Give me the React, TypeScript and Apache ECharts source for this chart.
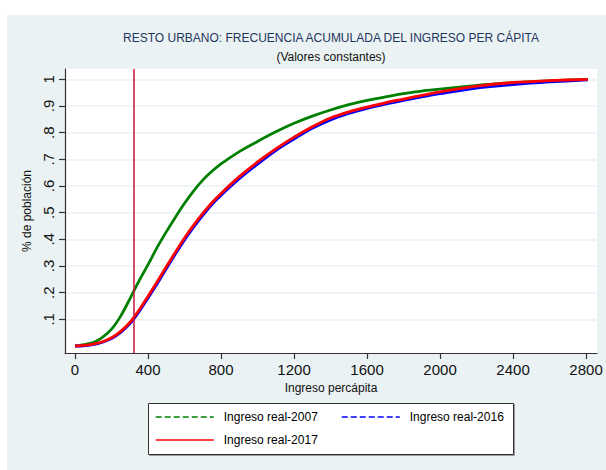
import React, { useEffect, useRef } from "react";
import * as echarts from "echarts";

// ---- data ----
const INCOME = [0, 50, 100, 150, 200, 250, 300, 350, 400, 450, 500, 550, 600, 650, 700, 750, 800, 900, 1000, 1100, 1200, 1300, 1400, 1500, 1600, 1700, 1800, 1900, 2000, 2200, 2400, 2600, 2810];
const REAL_2007 = [0, 0.005, 0.013, 0.032, 0.063, 0.112, 0.176, 0.243, 0.305, 0.37, 0.428, 0.483, 0.535, 0.582, 0.622, 0.655, 0.683, 0.729, 0.767, 0.803, 0.835, 0.862, 0.885, 0.905, 0.921, 0.934, 0.946, 0.956, 0.963, 0.977, 0.987, 0.994, 1.0];
const REAL_2016 = [0, 0.001, 0.005, 0.014, 0.028, 0.051, 0.083, 0.128, 0.18, 0.233, 0.29, 0.345, 0.398, 0.446, 0.49, 0.53, 0.565, 0.627, 0.682, 0.733, 0.776, 0.816, 0.848, 0.872, 0.891, 0.907, 0.921, 0.934, 0.946, 0.967, 0.98, 0.99, 0.998];
const REAL_2017 = [0, 0.002, 0.007, 0.016, 0.031, 0.055, 0.088, 0.134, 0.187, 0.241, 0.297, 0.352, 0.405, 0.453, 0.497, 0.537, 0.572, 0.635, 0.69, 0.739, 0.783, 0.822, 0.855, 0.878, 0.896, 0.912, 0.926, 0.94, 0.953, 0.974, 0.988, 0.995, 1.0];
const X_TICKS = [0, 400, 800, 1200, 1600, 2000, 2400, 2800];
const Y_TICKS = [0.1, 0.2, 0.3, 0.4, 0.5, 0.6, 0.7, 0.8, 0.9, 1];
const POVERTY_LINE = 320;
const SERIES_NAMES = ["Ingreso real-2007", "Ingreso real-2016", "Ingreso real-2017"];
const TITLE = "RESTO URBANO: FRECUENCIA ACUMULADA DEL INGRESO PER CÁPITA";
const SUBTITLE = "(Valores constantes)";
const X_NAME = "Ingreso percápita";
const Y_NAME = "% de población";

const FONT = "'Liberation Sans', Arial, sans-serif";

const pairs = (ys: number[]) => INCOME.map((x, i) => [x, ys[i]]);

export default function App() {
  const ref = useRef<HTMLDivElement>(null);

  useEffect(() => {
    if (!ref.current) return;
    const chart = echarts.init(ref.current, undefined, { renderer: "svg" });
    const legendBase = {
      orient: "horizontal",
      padding: 0,
      itemWidth: 58,
      itemHeight: 14,
      selectedMode: false,
      itemStyle: { color: "rgba(0,0,0,0)", borderWidth: 0, opacity: 0 },
      textStyle: { color: "#000", fontSize: 12, fontFamily: FONT, padding: [0, 0, 0, 5] },
    };
    chart.setOption({
      animation: false,
      backgroundColor: "#ffffff",
      textStyle: { fontFamily: FONT },
      title: [
        {
          text: TITLE,
          left: 331,
          top: 32,
          textAlign: "center",
          padding: 0,
          textStyle: { fontSize: 12, fontWeight: "normal", color: "#1F3660", fontFamily: FONT },
        },
        {
          text: SUBTITLE,
          left: 331,
          top: 51,
          textAlign: "center",
          padding: 0,
          textStyle: { fontSize: 12, fontWeight: "normal", color: "#111", fontFamily: FONT },
        },
      ],
      graphic: [
        {
          type: "rect",
          z: -10,
          silent: true,
          shape: { x: 7, y: 15, width: 606, height: 470 },
          style: { fill: "#EAF2F3" },
        },
        {
          type: "rect",
          z: 0,
          silent: true,
          shape: { x: 148.5, y: 403.5, width: 365, height: 51 },
          style: {
            fill: "#ffffff",
            stroke: "#333",
            lineWidth: 1,
            shadowColor: "#9a9a9a",
            shadowOffsetX: 1,
            shadowOffsetY: 1,
            shadowBlur: 0,
          },
        },
      ],
      legend: [
        { ...legendBase, left: 155, top: 411, data: [SERIES_NAMES[0]], lineStyle: { width: 1.5, type: [6, 3] } },
        { ...legendBase, left: 341, top: 411, data: [SERIES_NAMES[1]], lineStyle: { width: 1.5, type: [6, 3] } },
        { ...legendBase, left: 155, top: 434, data: [SERIES_NAMES[2]], lineStyle: { width: 1.5, type: "solid" } },
      ],
      grid: {
        left: 65,
        right: 9,
        top: 69,
        bottom: 117,
        show: true,
        backgroundColor: "#ffffff",
        borderWidth: 0,
      },
      xAxis: {
        type: "value",
        min: -55,
        max: 2860,
        name: X_NAME,
        nameLocation: "middle",
        nameGap: 21,
        nameTextStyle: { fontSize: 12, color: "#111", fontFamily: FONT },
        axisLine: { show: true, onZero: false, lineStyle: { color: "#333", width: 1.2 } },
        axisTick: { show: true, length: 6, customValues: X_TICKS, lineStyle: { color: "#333", width: 1.2 } },
        axisLabel: {
          customValues: X_TICKS,
          fontSize: 15,
          color: "#111",
          margin: 9,
          fontFamily: FONT,
          formatter: (v: number) => String(Math.round(v)),
        },
        splitLine: { show: false },
      },
      yAxis: {
        type: "value",
        min: -0.0262,
        max: 1.0386,
        name: Y_NAME,
        nameLocation: "middle",
        nameGap: 29,
        nameRotate: 90,
        nameTextStyle: { fontSize: 12, color: "#111", fontFamily: FONT },
        axisLine: { show: true, onZero: false, lineStyle: { color: "#333", width: 1.2 } },
        axisTick: { show: true, length: 6, customValues: Y_TICKS, lineStyle: { color: "#333", width: 1.2 } },
        axisLabel: {
          customValues: Y_TICKS,
          rotate: 90,
          fontSize: 15,
          color: "#111",
          margin: 9,
          fontFamily: FONT,
          formatter: (v: number) => (Math.abs(v - 1) < 1e-9 ? "1" : "." + Math.round(v * 10)),
        },
        splitLine: { show: true, lineStyle: { color: "#EAF2F3", width: 1.5 } },
      },
      series: [
        {
          name: SERIES_NAMES[0],
          type: "line",
          data: pairs(REAL_2007),
          symbol: "none",
          smooth: 0.3,
          lineStyle: { color: "#008000", width: 2.8 },
          itemStyle: { color: "#008000" },
          z: 2,
        },
        {
          name: SERIES_NAMES[1],
          type: "line",
          data: pairs(REAL_2016),
          symbol: "none",
          smooth: 0.3,
          lineStyle: { color: "#0000FF", width: 2.8 },
          itemStyle: { color: "#0000FF" },
          z: 3,
        },
        {
          name: SERIES_NAMES[2],
          type: "line",
          data: pairs(REAL_2017),
          symbol: "none",
          smooth: 0.3,
          lineStyle: { color: "#FF0000", width: 2.8 },
          itemStyle: { color: "#FF0000" },
          z: 4,
          markLine: {
            silent: true,
            symbol: "none",
            label: { show: false },
            lineStyle: { color: "#C8103E", width: 1.5, type: "solid" },
            data: [{ xAxis: POVERTY_LINE }],
            z: 5,
          },
        },
      ],
    });
    return () => chart.dispose();
  }, []);

  return (
    <div
      ref={ref}
      style={{ position: "absolute", left: 0, top: 0, width: 606, height: 470 }}
    />
  );
}
